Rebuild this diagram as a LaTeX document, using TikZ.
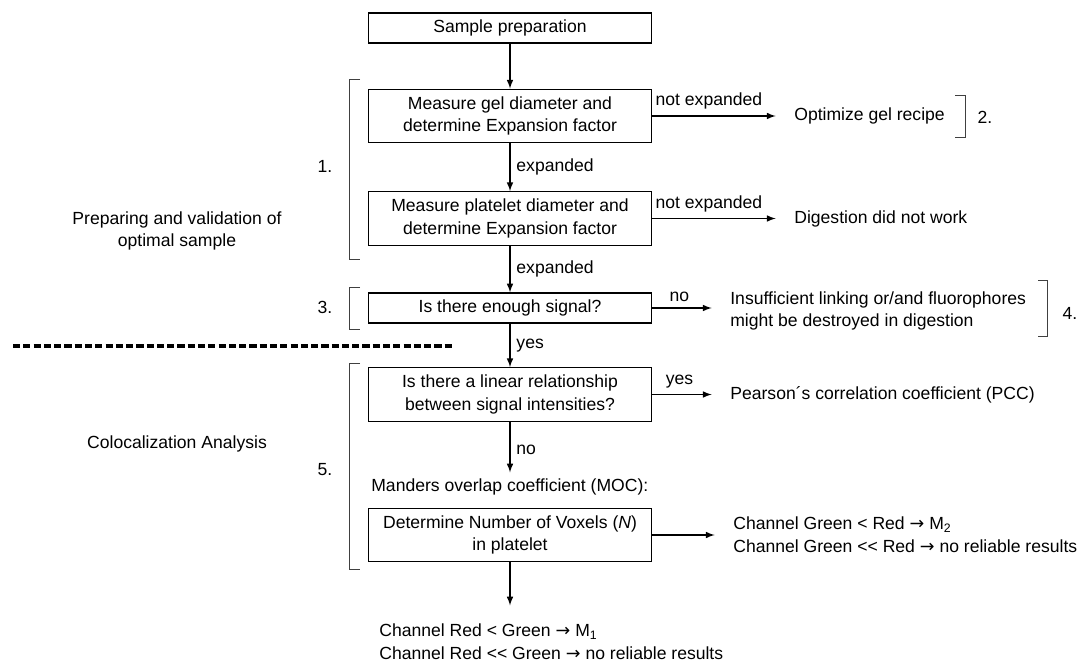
\documentclass[tikz,border=0pt]{standalone}
\usepackage{fontspec}
\setmainfont{Liberation Sans}
\newfontfamily\arrowfont{DejaVu Sans}
\newcommand{\toarrow}{{\arrowfont\char"2192}}

\begin{document}
\begin{tikzpicture}
[
	x=0.02cm, y=-0.02cm,
	font=\fontsize{10}{13}\selectfont,
	>=latex,
	box/.style={rectangle,draw,line width=0.8,minimum width=5.66cm,minimum height=0.6cm,align=center},
	tbox/.style={box,minimum height=1.07cm},
	res/.style={anchor=west,align=left,inner sep=0},
	brk/.style={line width=0.5,black!75},
	arr/.style={line width=0.7,->},
	outarr/.style={arr,shorten >=10.5pt}
]

\useasboundingbox (0,0) rectangle (1089,662);

\node[box] (b1) at (510,28) {Sample preparation};
\node[tbox] (b2) at (510,116) {Measure gel diameter and\\determine Expansion factor};
\node[tbox] (b3) at (510,218.5) {Measure platelet diameter and\\determine Expansion factor};
\node[box] (b4) at (510,308) {Is there enough signal?};
\node[tbox] (b5) at (510,394.5) {Is there a linear relationship\\between signal intensities?};
\node[res] (mand) at (371,487) {Manders overlap coefficient (MOC):};
\node[tbox] (b6) at (510,535) {Determine Number of Voxels (\textit{N})\\in platelet};

\node[res] (opt) at (794,116) {Optimize gel recipe};
\node[res] (dig) at (794,218.5) {Digestion did not work};
\node[res] (ins) at (730,311) {Insufficient linking or/and fluorophores\\might be destroyed in digestion};
\node[res] (pcc) at (730,394.5) {Pearson´s correlation coefficient (PCC)};
\node[res] (chg) at (733,535) {Channel Green < Red \toarrow{} M\textsubscript{2}\\Channel Green <{}< Red \toarrow{} no reliable results};
\node[res] (chr) at (379,642) {Channel Red < Green \toarrow{} M\textsubscript{1}\\Channel Red <{}< Green \toarrow{} no reliable results};

\node (n1) at (325,166) {1.};
\node (n2) at (985,117) {2.};
\node (n3) at (325,307) {3.};
\node (n4) at (1070,313) {4.};
\node (n5) at (325,470) {5.};

\node[align=center] (prep) at (177,231) {Preparing and validation of\\optimal sample};
\node (coloc) at (177,444) {Colocalization Analysis};

% brackets
\draw[brk] (360,79) -- (349,79) -- (349,259) -- (360,259);
\draw[brk] (360,287) -- (349,287) -- (349,329) -- (360,329);
\draw[brk] (360,363) -- (349,363) -- (349,569) -- (360,569);
\draw[brk] (955,95) -- (965,95) -- (965,137) -- (955,137);
\draw[brk] (1038,280) -- (1047,280) -- (1047,336) -- (1038,336);

\draw[line width=1.9,dash pattern=on 4.1pt off 1.75pt] (13,346) -- (452,346);

\draw[arr]	(b1)	--	(b2);
\draw[arr]	(b2)	--	node[right] {expanded}	(b3);
\draw[arr]	(b3)	--	node[right] {expanded}	(b4);
\draw[arr]	(b4)	--	node[right] {yes}	(b5);
\draw[arr,shorten >=3.5pt]	(b5)	--	node[right] {no}	(b5.south |- mand.north);
\draw[outarr]	(b6)	--	(b6.south |- chr.north);

\draw[outarr]	(b2.east)	--	node[above,pos=0.4] {not expanded}	(b2.east -| opt.west);
\draw[outarr]	(b3.east)	--	node[above,pos=0.4] {not expanded}	(b3.east -| dig.west);
\draw[outarr]	(b4.east)	--	node[above,pos=0.35] {no}	(b4.east -| ins.west);
\draw[outarr]	(b5.east)	--	node[above,pos=0.35] {yes}	(b5.east -| pcc.west);
\draw[outarr]	(b6.east)	--	(b6.east -| chg.west);

\end{tikzpicture}
\end{document}
